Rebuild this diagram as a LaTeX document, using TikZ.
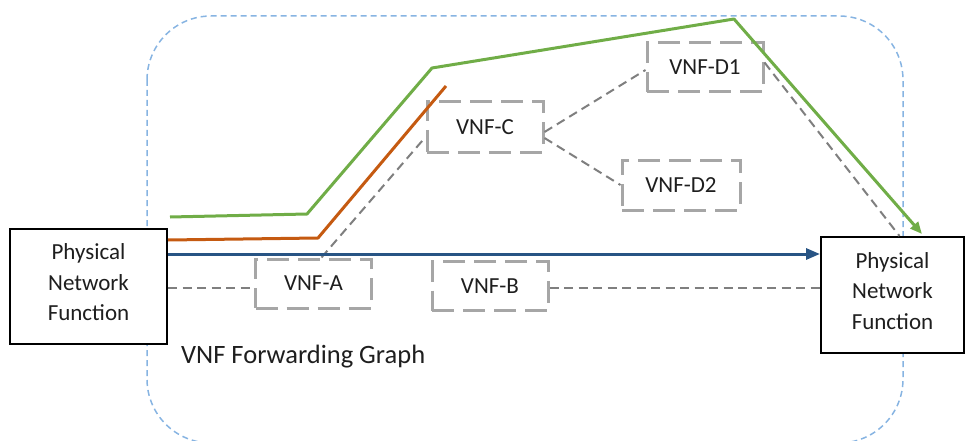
\documentclass[tikz,border=0pt]{standalone}
\usepackage{fontspec}
\setmainfont{Carlito}
\usetikzlibrary{arrows.meta,calc}

\definecolor{pathgreen}{RGB}{112,173,71}
\definecolor{pathorange}{RGB}{197,90,17}
\definecolor{pathblue}{RGB}{40,84,132}
\definecolor{vnfgray}{RGB}{166,166,166}
\definecolor{linkgray}{RGB}{127,127,127}
\definecolor{graphblue}{RGB}{135,180,226}
\definecolor{textdark}{RGB}{30,30,30}

\tikzset{
  pnfbox/.style={draw=black, line width=2pt, fill=white, align=center,
    text=textdark, font=\fontsize{23}{30.5}\selectfont, text depth=8pt,
    minimum width=157pt, minimum height=115pt, inner sep=0pt},
  vnfbox/.style={draw=vnfgray, line width=3pt, dash pattern=on 22pt off 9pt,
    text=textdark, font=\fontsize{23}{27}\selectfont,
    minimum width=116pt, minimum height=49pt, inner sep=0pt},
  vnflink/.style={draw=linkgray, line width=2pt, dash pattern=on 9pt off 5.5pt},
  fwdpath/.style={line width=3pt, line join=round},
  graphframe/.style={draw=graphblue, line width=1.5pt, dash pattern=on 6pt off 4pt,
    rounded corners=64pt},
}

\begin{document}
\begin{tikzpicture}[x=1pt,y=-1pt]
  \useasboundingbox (0,0) rectangle (966,441);
  \clip (0,0) rectangle (966,441);

  % forwarding graph boundary
  \draw[graphframe] (147,16) rectangle (903,443);

  % physical network functions
  \node[pnfbox] (pnfL) at (88.5,286.5) {Physical\\Network\\Function};
  \node[pnfbox, minimum width=143pt, minimum height=116pt] (pnfR) at (892.5,295) {Physical\\Network\\Function};

  % virtual network functions
  \node[vnfbox] (vnfA) at (313.5,283.5) {VNF-A};
  \node[vnfbox] (vnfB) at (490,286) {VNF-B};
  \node[vnfbox, minimum height=50pt] (vnfC) at (485,127) {VNF-C};
  \node[vnfbox] (vnfD1) at (705,67.5) {VNF-D1};
  \node[vnfbox, minimum width=118pt, minimum height=50pt] (vnfD2) at (681,185) {VNF-D2};

  % logical links between functions
  \draw[vnflink] ([yshift=-4.5pt]vnfA.west -| pnfL.east) -- ([yshift=-4.5pt]vnfA.west);
  \draw[vnflink] ([yshift=-2pt]vnfB.east) -- ([yshift=-2pt]vnfB.east -| pnfR.west);
  \draw[vnflink] ([xshift=8pt]vnfA.north) -- ([yshift=-10pt]vnfC.west);
  \draw[vnflink] ([yshift=-5pt]vnfC.east) -- ([yshift=-2.5pt]vnfD1.west);
  \draw[vnflink] ([yshift=-11pt]vnfC.east) -- (vnfD2.west);
  \draw[vnflink] ([yshift=5pt]vnfD1.east) -- ([xshift=7pt]pnfR.north);

  % forwarding paths
  \coordinate (gA) at (170,217);
  \coordinate (gB) at (307,214);
  \coordinate (gC) at (432,68);
  \coordinate (gD) at (734,19);
  \coordinate (gE) at (922,234);
  \draw[fwdpath, pathgreen, -{Triangle[length=12pt,width=10pt]}]
    (gA) -- (gB) -- (gC) -- (gD) -- (gE);

  \coordinate (oB) at (318,238);
  \coordinate (oC) at (446,86);
  \draw[fwdpath, pathorange] ([yshift=46.5pt]pnfL.east) -- (oB) -- (oC);

  \draw[fwdpath, pathblue, -{Triangle[length=14pt,width=11pt]}]
    ([yshift=32.5pt]pnfL.east) -- ([yshift=32.5pt]pnfL.east -| pnfR.west);

  % graph label
  \node[anchor=base west, inner sep=0pt, text=textdark, font=\fontsize{26.5}{30}\selectfont]
    (fglabel) at (181,363) {VNF Forwarding Graph};
\end{tikzpicture}
\end{document}
